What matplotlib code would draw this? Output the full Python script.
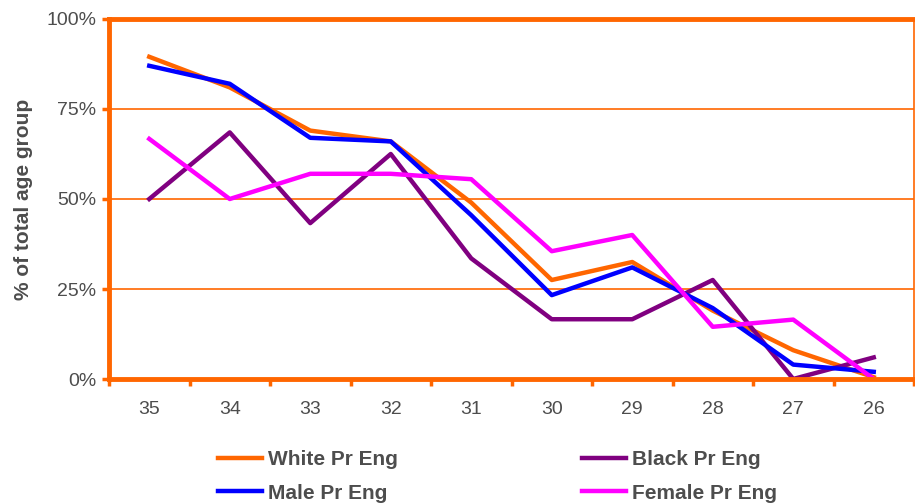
import numpy as np
import matplotlib.pyplot as plt

plt.rcParams['font.family'] = ['Liberation Sans', 'DejaVu Sans']

# age groups and share of each group (%)
ages = ["35", "34", "33", "32", "31", "30", "29", "28", "27", "26"]
white = [89.5, 81, 69, 66, 49, 27.5, 32.5, 19, 8, 0.5]
black = [50, 68.5, 43.3, 62.5, 33.5, 16.6, 16.6, 27.5, 0, 6]
male = [87, 82, 67, 66, 45.5, 23.3, 31, 19.7, 4, 2]
female = [66.7, 50, 57, 57, 55.5, 35.5, 40, 14.5, 16.5, 0]

orange = "#FF6600"
grey = "#4D4D4D"

fig = plt.figure(figsize=(9.15, 5.03), dpi=100)
ax = fig.add_axes([109/915, 1 - 379/503, 805/915, 360/503])

x = np.arange(len(ages))
lw = 3.2
l1, = ax.plot(x, white, color=orange, lw=lw, label="White Pr Eng")
l2, = ax.plot(x, black, color="#800080", lw=lw, label="Black Pr Eng")
l3, = ax.plot(x, male, color="#0000FF", lw=lw, label="Male Pr Eng")
l4, = ax.plot(x, female, color="#FF00FF", lw=lw, label="Female Pr Eng")

ax.set_xlim(-0.5, len(ages) - 0.5)
ax.set_ylim(0, 100)
for g in [25, 50, 75]:
    ax.axhline(g, color=orange, lw=1.2, zorder=0)

ax.set_yticks([0, 25, 50, 75, 100])
ax.set_yticklabels(["0%", "25%", "50%", "75%", "100%"])
ax.set_xticks(x)
ax.set_xticklabels(ages)
ax.set_xticks(np.arange(len(ages) + 1) - 0.5, minor=True)
ax.tick_params(axis='x', which='major', length=0, pad=16, labelsize=14, labelcolor=grey)
ax.tick_params(axis='x', which='minor', length=5, width=2.5, color=orange, direction='out')
ax.tick_params(axis='y', length=5, width=2.5, color=orange, direction='out', pad=4,
               labelsize=14, labelcolor=grey)

for side in ['left', 'bottom', 'top']:
    ax.spines[side].set_color(orange)
    ax.spines[side].set_linewidth(3.5)
ax.spines['right'].set_color(orange)
ax.spines['right'].set_linewidth(1.2)

ax.set_ylabel("% of total age group", fontsize=15, fontweight='bold', color=grey, labelpad=10)

fig.legend(handles=[l1, l3, l2, l4], ncol=2, loc='upper left',
           bbox_to_anchor=(218/915, 1 - 450/503), frameon=False,
           prop={'weight': 'bold', 'size': 15}, labelcolor=grey,
           handlelength=2.1, handletextpad=0.3, columnspacing=8.85,
           labelspacing=0.7, borderaxespad=0, borderpad=0)

fig.savefig("out.png", dpi=100)
